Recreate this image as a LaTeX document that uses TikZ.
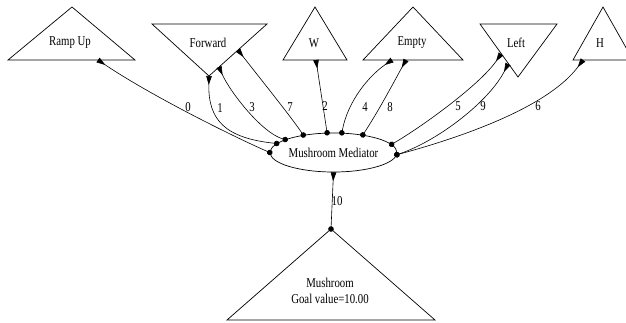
\documentclass[tikz,border=0pt]{standalone}
\usepackage{fontspec}
\setmainfont[FakeStretch=0.8]{Liberation Serif}
\usetikzlibrary{arrows.meta,shapes.geometric}

\begin{document}
\begin{tikzpicture}[x=1pt,y=-1pt,
  lab/.style={font=\fontsize{13.5}{14}\selectfont, inner sep=0pt},
  num/.style={font=\fontsize{13.5}{14}\selectfont, inner sep=0pt},
  tri/.style={draw, line width=0.7pt, line join=miter},
  link/.style={{Circle[length=5.5pt,width=5.5pt]}-{Triangle[reversed,length=9pt,width=5.5pt]},
               shorten <=-2.75pt, line width=0.6pt},
]
\useasboundingbox (0,0) rectangle (626,322);
\clip (0,0) rectangle (626,322);

% behaviour triangles (upright and inverted)
\draw[tri] (8,60) -- (72,7) -- (135,60) -- cycle;
\draw[tri] (152,24) -- (267,24) -- (209,76) -- cycle;
\draw[tri] (283,60) -- (315,7) -- (347,60) -- cycle;
\draw[tri] (363,60) -- (413,7) -- (463,60) -- cycle;
\draw[tri] (480,24) -- (557,24) -- (518,77) -- cycle;
\draw[tri] (573,60) -- (603,7) -- (633,60) -- cycle;
\draw[tri] (227,320) -- (331,229) -- (435,320) -- cycle;

\node[lab] (ramp) at (70,43) {Ramp Up};
\node[lab] (fwd) at (208,43) {Forward};
\node[lab] (w) at (314,43) {W};
\node[lab] (empty) at (412,43) {Empty};
\node[lab] (left) at (516,43) {Left};
\node[lab] (h) at (600,43) {H};
\node[lab, align=center] (mush) at (330,291) {Mushroom\\[2pt]Goal value=10.00};

% mediator
\node[draw, ellipse, line width=0.7pt, minimum width=119pt, minimum height=39pt,
      inner sep=0pt, lab] (med) at (333.5,152.5) {Mushroom Mediator};

% connector ends on the triangles
\coordinate (rampE) at (98,60);
\coordinate (fwdA) at (209,76);
\coordinate (fwdB) at (219,67);
\coordinate (fwdC) at (238,50);
\coordinate (wE) at (316,60);
\coordinate (emptyA) at (392,60);
\coordinate (emptyB) at (406,60);
\coordinate (leftA) at (501,54);
\coordinate (leftB) at (508,64);
\coordinate (hE) at (583,60);
\coordinate (mushTop) at (331,229);

% connectors
\draw[link] (med.180) .. controls (230,135) and (150,95) .. (rampE);
\draw[link] (med.171) .. controls (225,138) and (208,120) .. (fwdA);
\draw[link] (med.165) .. controls (262,133) and (230,92) .. (fwdB);
\draw[link] (med.150) .. controls (292,118) and (255,72) .. (fwdC);
\draw[link] (med.108) -- (wE);
\draw[link] (med.67) .. controls (348,100) and (370,75) .. (emptyA);
\draw[link] (med.31) .. controls (378,112) and (395,80) .. (emptyB);
\draw[link] (med.8) .. controls (420,128) and (480,85) .. (leftA);
\draw[link] (med.-2) .. controls (440,140) and (490,100) .. (leftB);
\draw[link] (med.-2) .. controls (470,135) and (550,105) .. (hE);
\draw[link] (mushTop) -- (med.south);

% connector numbers
\node[num] (n0) at (188,107) {0};
\node[num] (n1) at (220,108) {1};
\node[num] (n3) at (252,107) {3};
\node[num] (n7) at (290,107) {7};
\node[num] (n2) at (325,106) {2};
\node[num] (n4) at (365,107) {4};
\node[num] (n8) at (390,107) {8};
\node[num] (n5) at (458,106) {5};
\node[num] (n9) at (483,106) {9};
\node[num] (n6) at (538,106) {6};
\node[num] (n10) at (337,201) {10};
\end{tikzpicture}
\end{document}
